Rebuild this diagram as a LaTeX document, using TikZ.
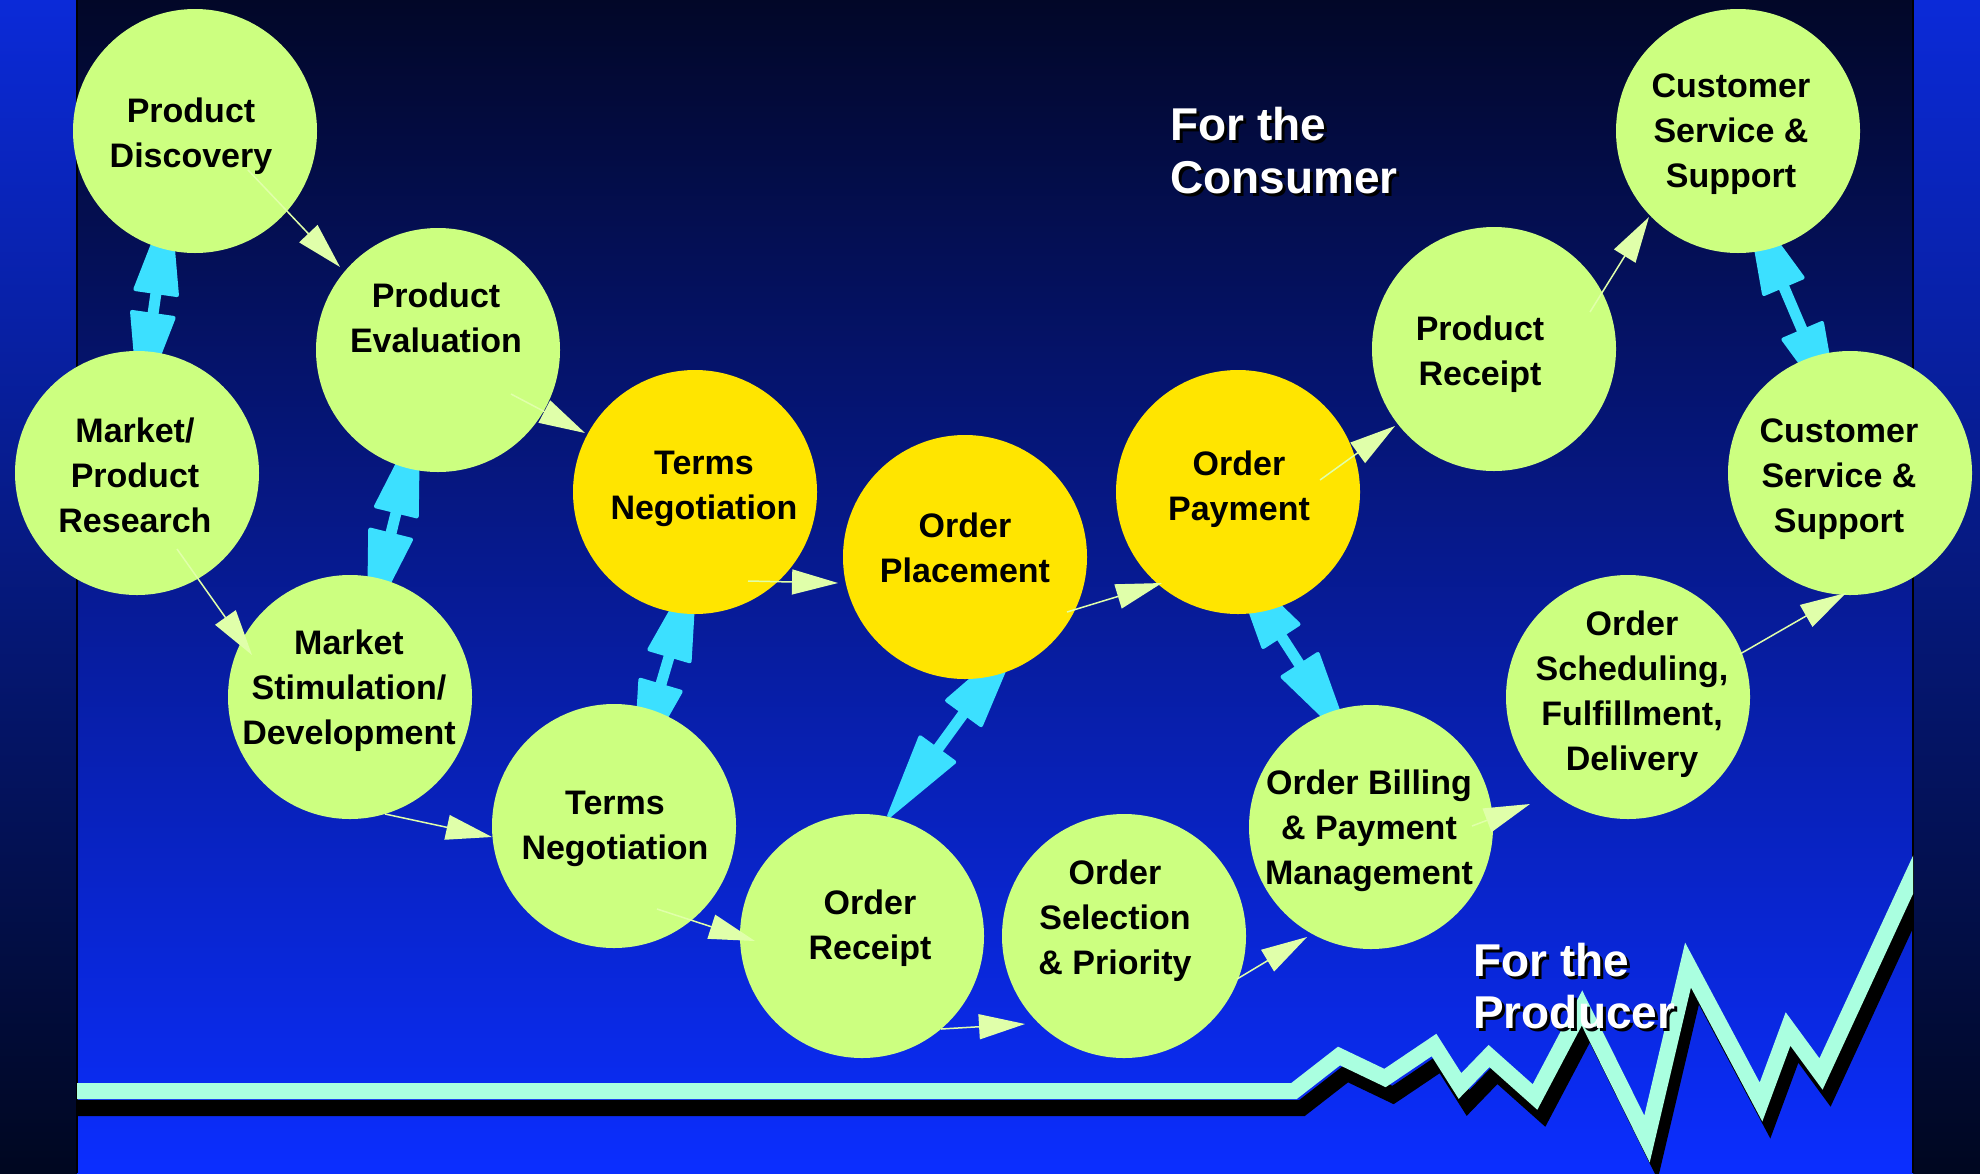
\documentclass[tikz,border=0pt]{standalone}
\usepackage{fontspec}
\setmainfont{Liberation Sans}
\usetikzlibrary{arrows.meta,calc}
\pgfdeclarelayer{back}
\pgfdeclarelayer{mid}
\pgfsetlayers{back,mid,main}
\definecolor{bubblegreen}{RGB}{204,255,128}
\definecolor{bubblegold}{RGB}{255,229,0}
\definecolor{linkcyan}{RGB}{60,224,255}
\definecolor{flowpale}{RGB}{224,255,170}
\definecolor{ridge}{RGB}{170,255,224}
\definecolor{panelTop}{RGB}{2,7,40}
\definecolor{panelBot}{RGB}{11,46,255}
\definecolor{sideTop}{RGB}{11,42,216}
\definecolor{sideBot}{RGB}{0,7,32}
% two-headed block link between two tip points #1 and #2,
% head lengths #3 (at #1) and #4 (at #2)
\newcommand\twoway[4]{%
  \coordinate (tw-b1) at ($(#1)!#3!(#2)$);
  \coordinate (tw-b2) at ($(#2)!#4!(#1)$);
  \draw[link] (tw-b1) -- (tw-b2);
  \filldraw[linkhead] (#1) -- ($(tw-b1)!21pt!90:(#2)$) -- ($(tw-b1)!21pt!-90:(#2)$) -- cycle;
  \filldraw[linkhead] (#2) -- ($(tw-b2)!21pt!90:(#1)$) -- ($(tw-b2)!21pt!-90:(#1)$) -- cycle;
}
\begin{document}
\begin{tikzpicture}[x=1pt,y=-1pt,
  bubble/.style={circle, minimum size=244pt, inner sep=0pt, outer sep=0pt},
  greenb/.style={bubble, fill=bubblegreen},
  goldb/.style={bubble, fill=bubblegold},
  btext/.style={align=center, inner sep=0pt, text=black,
    font=\fontsize{34}{45}\selectfont\bfseries},
  ttl/.style={anchor=base west, inner sep=0pt,
    font=\fontsize{46}{53}\selectfont\bfseries},
  flow/.style={draw=flowpale, line width=1.5pt,
    -{Triangle[length=46pt,width=25pt]}},
  link/.style={draw=linkcyan, line width=11pt},
  linkhead/.style={fill=linkcyan, draw=linkcyan, line width=4pt, line join=round},
]
\useasboundingbox (0,0) rectangle (1980,1173);

% ---------- background ----------
\begin{pgfonlayer}{back}
  \shade[top color=sideTop, bottom color=sideBot] (0,0) rectangle (1980,1173);
  \shade[top color=panelTop, bottom color=panelBot] (77,0) rectangle (1913,1173);
  \draw[black, line width=1.5pt] (77,0) -- (77,1173) (1913,0) -- (1913,1173);
  % producer ridge line with its drop shadow
  \begin{scope}
    \clip (77,0) rectangle (1913,1173);
    \def\ridgepath{(60,1091) -- (1294,1091) -- (1339,1056) -- (1385,1078) -- (1434,1045)
      -- (1460,1086) -- (1489,1056) -- (1535,1097) -- (1582,1008) -- (1647,1139)
      -- (1688,965) -- (1761,1102) -- (1788,1029) -- (1821,1074) -- (1930,838)}
    \draw[black, line width=16pt, shift={(8,17)}] \ridgepath;
    \draw[ridge, line width=16pt] \ridgepath;
  \end{scope}
\end{pgfonlayer}

% ---------- process bubbles ----------
\node[greenb] (disc)  at (195,131)  {};
\node[greenb] (eval)  at (438,350)  {};
\node[greenb] (rsch)  at (137,473)  {};
\node[greenb] (stim)  at (350,697)  {};
\node[goldb]  (tny)   at (695,492)  {};
\node[greenb] (tng)   at (614,826)  {};
\node[goldb]  (plac)  at (965,557)  {};
\node[greenb] (rcpt)  at (862,936)  {};
\node[greenb] (sel)   at (1124,936) {};
\node[goldb]  (pay)   at (1238,492) {};
\node[greenb] (bill)  at (1371,827) {};
\node[greenb] (prec)  at (1494,349) {};
\node[greenb] (cst)   at (1738,131) {};
\node[greenb] (csr)   at (1850,473) {};
\node[greenb] (sched) at (1628,697) {};

% ---------- bubble labels ----------
\node[btext] (disc-t)  at ([shift={(-4,5)}]disc.center)   {\strut Product\\\strut Discovery};
\node[btext] (eval-t)  at ([shift={(-2,-29)}]eval.center) {\strut Product\\\strut Evaluation};
\node[btext] (rsch-t)  at ([shift={(-2,5)}]rsch.center)   {\strut Market/\\\strut Product\\\strut Research};
\node[btext] (stim-t)  at ([shift={(-1,-7)}]stim.center)  {\strut Market\\\strut Stimulation/\\\strut Development};
\node[btext] (tny-t)   at ([shift={(9,-4)}]tny.center)    {\strut Terms\\\strut Negotiation};
\node[btext] (tng-t)   at ([shift={(1,2)}]tng.center)     {\strut Terms\\\strut Negotiation};
\node[btext] (plac-t)  at ([shift={(0,-6)}]plac.center)   {\strut Order\\\strut Placement};
\node[btext] (rcpt-t)  at ([shift={(8,-8)}]rcpt.center)   {\strut Order\\\strut Receipt};
\node[btext] (sel-t)   at ([shift={(-9,-16)}]sel.center)  {\strut Order\\\strut Selection\\\strut \& Priority};
\node[btext] (pay-t)   at ([shift={(1,-3)}]pay.center)    {\strut Order\\\strut Payment};
\node[btext] (bill-t)  at ([shift={(-2,3)}]bill.center)   {\strut Order Billing\\\strut \& Payment\\\strut Management};
\node[btext] (prec-t)  at ([shift={(-14,5)}]prec.center)  {\strut Product\\\strut Receipt};
\node[btext] (cst-t)   at ([shift={(-7,2)}]cst.center)    {\strut Customer\\\strut Service \&\\\strut Support};
\node[btext] (csr-t)   at ([shift={(-11,5)}]csr.center)   {\strut Customer\\\strut Service \&\\\strut Support};
\node[btext] (sched-t) at ([shift={(4,-3)}]sched.center)  {\strut Order\\\strut Scheduling,\\\strut Fulfillment,\\\strut Delivery};

% ---------- two-way links (tucked under the bubbles) ----------
\coordinate (l1a) at ([shift={(-26,72)}]disc.center);
\coordinate (l1b) at ([shift={(3,-69)}]rsch.center);
\coordinate (l2a) at ([shift={(-20,74)}]eval.center);
\coordinate (l2b) at ([shift={(19,-75)}]stim.center);
\coordinate (l3a) at ([shift={(0,77)}]tny.center);
\coordinate (l3b) at ([shift={(21,-54)}]tng.center);
\coordinate (l4a) at ([shift={(52,83)}]plac.center);
\coordinate (l4b) at ([shift={(27,-120)}]rcpt.center);
\coordinate (l5a) at ([shift={(-6,68)}]pay.center);
\coordinate (l5b) at ([shift={(-22,-86)}]bill.center);
\coordinate (l6a) at ([shift={(10,72)}]cst.center);
\coordinate (l6b) at ([shift={(-12,-59)}]csr.center);
\begin{pgfonlayer}{mid}
  \twoway{l1a}{l1b}{90pt}{90pt}
  \twoway{l2a}{l2b}{90pt}{90pt}
  \twoway{l3a}{l3b}{90pt}{90pt}
  \twoway{l4a}{l4b}{90pt}{82pt}
  \twoway{l5a}{l5b}{90pt}{90pt}
  \twoway{l6a}{l6b}{90pt}{90pt}
\end{pgfonlayer}

% ---------- process flow ----------
\draw[flow] ([shift={(53,39)}]disc.center)   -- ([shift={(-98,-83)}]eval.center);
\draw[flow] ([shift={(73,44)}]eval.center)   -- ([shift={(-110,-59)}]tny.center);
\draw[flow] ([shift={(40,76)}]rsch.center)   -- ([shift={(-98,-42)}]stim.center);
\draw[flow] ([shift={(35,117)}]stim.center)  -- ([shift={(-122,11)}]tng.center);
\draw[flow] ([shift={(43,83)}]tng.center)    -- ([shift={(-107,5)}]rcpt.center);
\draw[flow] ([shift={(53,89)}]tny.center)    -- ([shift={(-127,26)}]plac.center);
\draw[flow] ([shift={(102,55)}]plac.center)  -- ([shift={(-76,91)}]pay.center);
\draw[flow] ([shift={(79,93)}]rcpt.center)   -- ([shift={(-99,88)}]sel.center);
\draw[flow] ([shift={(113,43)}]sel.center)   -- ([shift={(-64,110)}]bill.center);
\draw[flow] ([shift={(82,-12)}]pay.center)   -- ([shift={(-99,77)}]prec.center);
\draw[flow] ([shift={(96,-37)}]prec.center)  -- ([shift={(-89,86)}]cst.center);
\draw[flow] ([shift={(101,-1)}]bill.center)  -- ([shift={(-98,107)}]sched.center);
\draw[flow] ([shift={(112,-43)}]sched.center) -- ([shift={(-4,120)}]csr.center);

% ---------- headings with drop shadow ----------
\node[ttl, text=black] (cons1s) at (1173,143)  {For the};
\node[ttl, text=black] (cons2s) at (1173,196)  {Consumer};
\node[ttl, text=white] (cons1)  at (1170,140)  {For the};
\node[ttl, text=white] (cons2)  at (1170,193)  {Consumer};
\node[ttl, text=black] (prod1s) at (1476,979)  {For the};
\node[ttl, text=black] (prod2s) at (1476,1031) {Producer};
\node[ttl, text=white] (prod1)  at (1473,976)  {For the};
\node[ttl, text=white] (prod2)  at (1473,1028) {Producer};
\end{tikzpicture}
\end{document}
